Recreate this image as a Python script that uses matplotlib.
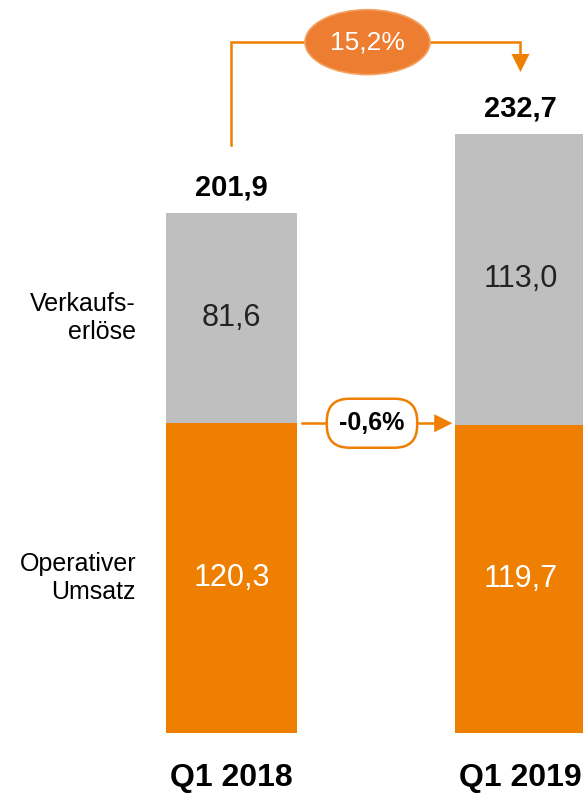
import matplotlib
matplotlib.use('Agg')
import matplotlib.pyplot as plt
from matplotlib.patches import Ellipse

plt.rcParams['font.family'] = ['Liberation Sans Narrow', 'Liberation Sans', 'DejaVu Sans']

# data
quarters = ['Q1 2018', 'Q1 2019']
operativ = [120.3, 119.7]
verkauf = [81.6, 113.0]
totals = [201.9, 232.7]
labels_op = ['120,3', '119,7']
labels_vk = ['81,6', '113,0']
labels_tot = ['201,9', '232,7']
growth_total = '15,2%'
growth_op = '-0,6%'
series_names = ['Operativer\nUmsatz', 'Verkaufs-\nerlöse']

orange = '#EE7F00'
grey = '#BFBFBF'

fig = plt.figure(figsize=(5.83, 7.94), dpi=100)
ax = fig.add_axes([0, 0, 1, 1])
ax.set_xlim(-0.801, 1.2163)
ax.set_ylim(-23.69, 284.66)
ax.axis('off')

x = [0, 1]
w = 0.453
ax.bar(x, operativ, width=w, color=orange)
ax.bar(x, verkauf, width=w, bottom=operativ, color=grey)

for i in x:
    ax.text(i, operativ[i] / 2, labels_op[i], ha='center', va='center',
            color='white', fontsize=22)
    ax.text(i, operativ[i] + verkauf[i] / 2, labels_vk[i], ha='center',
            va='center', color='#222222', fontsize=22)
    ax.text(i, totals[i] + 10, labels_tot[i], ha='center', va='center',
            fontsize=21, fontweight='bold')
    ax.text(i, -17.5, quarters[i], ha='center', va='center',
            fontsize=23, fontweight='bold')

# row labels on the left
ax.text(-0.33, operativ[0] + verkauf[0] / 2, series_names[1], ha='right',
        va='center', fontsize=18, linespacing=1.2)
ax.text(-0.33, operativ[0] / 2, series_names[0], ha='right',
        va='center', fontsize=18, linespacing=1.2)

# total growth connector
top_y = 268.3
head = 'simple,head_length=1.0,head_width=1.0,tail_width=0.01'
ax.plot([0, 0, 1, 1], [totals[0] + 26.4, top_y, top_y, totals[1] + 30],
        color=orange, lw=1.8, solid_joinstyle='miter')
ax.annotate('', xy=(1, totals[1] + 24), xytext=(1, totals[1] + 30.5),
            arrowprops=dict(arrowstyle=head, color=orange, lw=0,
                            shrinkA=0, shrinkB=0, mutation_scale=13))
ax.add_patch(Ellipse((0.4706, top_y), 0.4325, 25.2, facecolor='#ED7D31',
                     edgecolor='#F4A261', lw=1.2, zorder=3))
ax.text(0.4706, top_y, growth_total, ha='center', va='center', color='white',
        fontsize=19, zorder=4)

# operating revenue connector
ax.plot([0.244, 0.73], [operativ[0], operativ[0]], color=orange, lw=1.8)
ax.annotate('', xy=(0.764, operativ[0]), xytext=(0.72, operativ[0]),
            arrowprops=dict(arrowstyle=head, color=orange, lw=0,
                            shrinkA=0, shrinkB=0, mutation_scale=13))
ax.text(0.4862, operativ[0], growth_op, ha='center', va='center',
        fontsize=18, fontweight='bold', zorder=4,
        bbox=dict(boxstyle='round,pad=0.5,rounding_size=0.9',
                  facecolor='white', edgecolor=orange, lw=1.8))

fig.savefig('out.png', dpi=100)
